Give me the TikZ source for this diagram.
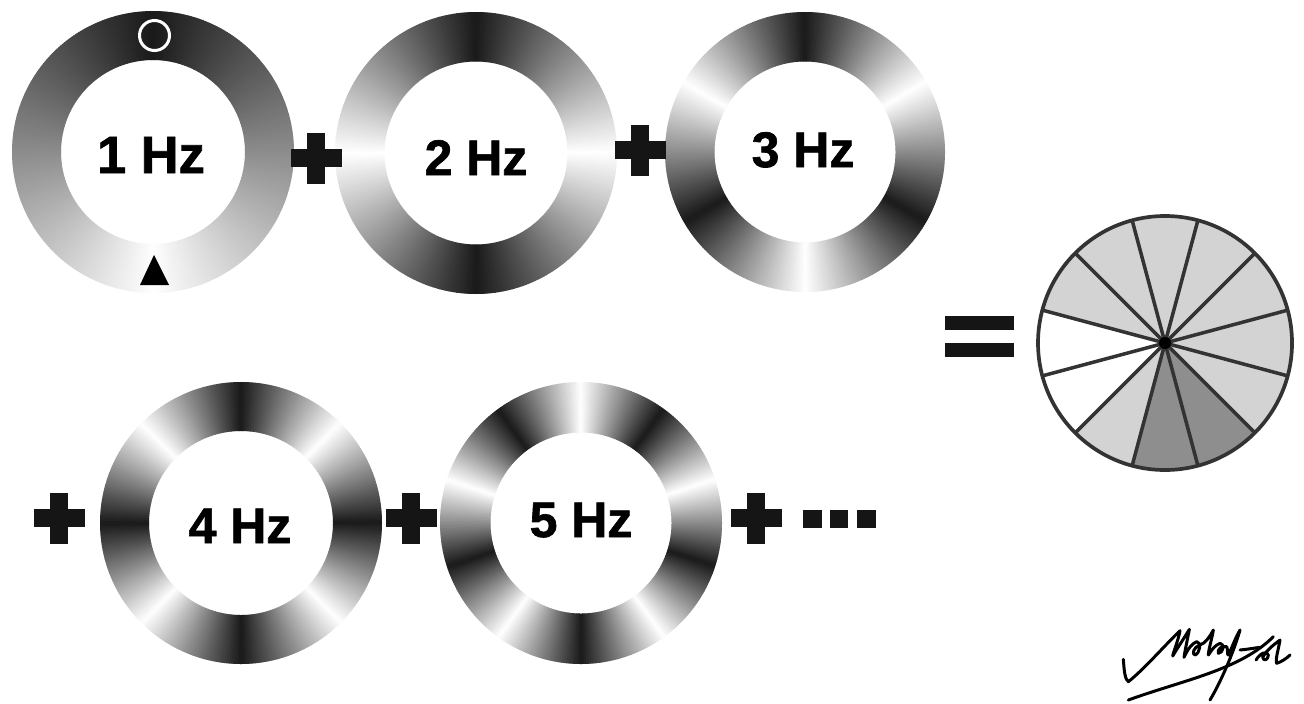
\documentclass[tikz,border=0pt]{standalone}
\usepackage{fontspec}
\setmainfont{Liberation Sans}
\newfontfamily\hzfont{Liberation Sans}[BoldFeatures={FakeBold=1.3}]
\definecolor{symb}{HTML}{151515}
\definecolor{pielight}{HTML}{D3D3D3}
\definecolor{piedark}{HTML}{8E8E8E}
\definecolor{pieline}{HTML}{333333}
\newcommand{\shadedring}[6]{%
  \foreach \a in {0,...,359}{%
    \pgfmathsetmacro{\pp}{360/#5}%
    \pgfmathsetmacro{\uu}{mod(\a+0.5,\pp)/\pp}%
    \pgfmathsetmacro{\tt}{1-abs(2*\uu-1)}%
    \pgfmathsetmacro{\bb}{#6==1 ? 0.1+0.9*(1-\tt) : 0.1+0.9*\tt}%
    \definecolor{rc}{gray}{\bb}%
    \fill[rc, shift={(#1,#2)}] (\a-90.15:#4) -- (\a-90.15:#3) -- (\a-88.85:#3) -- (\a-88.85:#4) -- cycle;
  }%
}
\tikzset{
  hzlabel/.style={anchor=base, text=black, inner sep=0pt, font=\fontsize{14.2}{16}\selectfont\hzfont\bfseries},
  plussign/.pic={\fill[symb] (-25.5,-9) rectangle (25.5,9); \fill[symb] (-9,-25.5) rectangle (9,25.5);},
  sig/.style={draw=black, line width=0.85pt, line cap=round, line join=round}
}
\begin{document}
\begin{tikzpicture}[x=0.01cm, y=-0.01cm]
\useasboundingbox (0,0) rectangle (1304,703);
\fill[white] (0,0) rectangle (1304,703);

% rings
\shadedring{153}{152}{141}{92}{1}{0}
\shadedring{476}{153}{141}{91.5}{2}{0}
\shadedring{805}{152}{140}{90.5}{3}{0}
\shadedring{241}{523}{141}{92}{4}{0}
\shadedring{581}{523}{141}{90.5}{5}{1}

\coordinate (r1) at (153,152);
\coordinate (r2) at (476,153);
\coordinate (r3) at (805,152);
\coordinate (r4) at (241,523);
\coordinate (r5) at (581,523);

% markers on ring 1
\draw[white, line width=0.85pt] (154.5,35.5) circle[radius=15];
\fill[black] (154,255) -- (169,285) -- (140,285) -- cycle;

% labels
\node[hzlabel, font=\fontsize{14.9}{16}\selectfont\hzfont\bfseries] (t1) at (151,173) {1 Hz};
\node[hzlabel] (t2) at (476,175) {2 Hz};
\node[hzlabel] (t3) at (803,167) {3 Hz};
\node[hzlabel] (t4) at (240,543) {4 Hz};
\node[hzlabel] (t5) at (581,537) {5 Hz};

% plus signs
\pic at (316,158) {plussign};
\pic at (640,150) {plussign};
\pic at (59,518) {plussign};
\pic at (411,518) {plussign};
\pic at (756,518) {plussign};

% dots
\fill[symb] (803,510) rectangle (822,528);
\fill[symb] (830,510) rectangle (848,528);
\fill[symb] (857,510) rectangle (876,528);

% equals
\fill[symb] (945,316) rectangle (1014,330);
\fill[symb] (945,343) rectangle (1014,357);

% pie
\coordinate (pc) at (1165,343);
\foreach \sa/\sb/\col in {75/105/pielight,45/75/pielight,15/45/pielight,-15/15/pielight,-45/-15/pielight,-75/-45/piedark,-105/-75/piedark,-135/-105/pielight,-165/-135/white,165/195/white,135/165/pielight,105/135/pielight}{
  \fill[\col] (pc) -- ++(-\sa:127) arc[start angle=-\sa, end angle=-\sb, radius=127] -- cycle;
}
\foreach \s in {15,45,...,345}{
  \draw[pieline, line width=1pt] (pc) -- ++(-\s:127);
}
\draw[pieline, line width=1.05pt] (pc) circle[radius=127];
\fill[black] (pc) circle[radius=6];

% signature
\begin{scope}[shift={(1100,600)}, scale=1/3]
\draw[sig] (70,178) .. controls (72,210) and (75,240) .. (85,245)
  .. controls (130,210) and (200,130) .. (240,92)
  .. controls (235,120) and (222,150) .. (218,168)
  .. controls (235,140) and (255,110) .. (268,88)
  .. controls (262,120) and (255,150) .. (252,172)
  .. controls (262,150) and (275,130) .. (290,125)
  .. controls (305,125) and (300,160) .. (285,165)
  .. controls (275,165) and (280,140) .. (300,135)
  .. controls (315,130) and (330,110) .. (340,90)
  .. controls (335,120) and (325,150) .. (325,165)
  .. controls (335,150) and (345,135) .. (360,130)
  .. controls (375,130) and (370,160) .. (355,160)
  .. controls (350,150) and (365,135) .. (380,140)
  .. controls (385,150) and (380,165) .. (385,165)
  .. controls (395,145) and (405,115) .. (420,90)
  .. controls (400,160) and (360,250) .. (330,300);
\draw[sig] (85,300) .. controls (250,240) and (420,210) .. (520,110);
\draw[sig] (420,150) .. controls (440,148) and (460,145) .. (478,142);
\draw[sig] (468,180) .. controls (480,160) and (500,150) .. (505,165)
  .. controls (505,180) and (490,185) .. (488,172)
  .. controls (500,150) and (520,135) .. (540,120)
  .. controls (535,150) and (525,180) .. (530,190)
  .. controls (545,185) and (560,175) .. (570,165);
\end{scope}
\end{tikzpicture}
\end{document}
